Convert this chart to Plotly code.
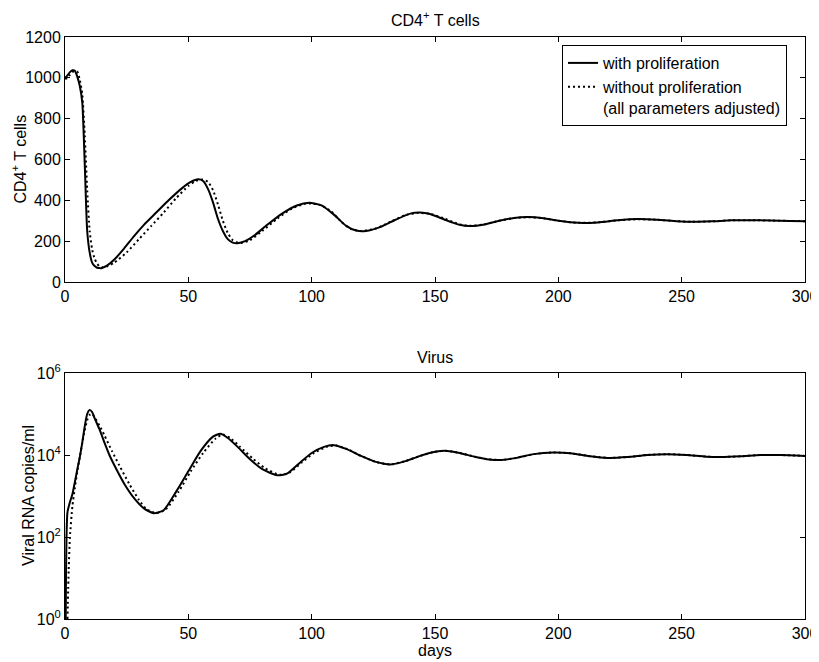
import plotly.graph_objects as go

# ---------------- data ----------------
# CD4+ T cells, with proliferation
cd4_t_with = [0, 1, 2, 3, 4, 5, 6, 7, 8, 9, 10, 11, 12, 13, 14, 15, 17, 20, 24, 28, 32, 37, 42, 47, 51, 54, 56,
              58, 60, 62, 64, 66, 68, 70, 73, 77, 82, 88, 94, 99, 104, 109, 114, 118, 122, 128, 134, 140,
              144, 148, 154, 160, 164, 170, 176, 182, 188, 194, 200, 208, 216, 224, 232, 240, 248, 254,
              262, 270, 278, 286, 294, 300]
cd4_v_with = [1000, 1012, 1028, 1037, 1035, 1005, 960, 880, 580, 250, 145, 95, 78, 70, 68, 69, 80, 110, 165,
              225, 280, 340, 400, 455, 490, 503, 495, 455, 390, 310, 250, 210, 193, 190, 200, 230, 280, 335,
              375, 388, 375, 330, 275, 252, 250, 270, 305, 335, 340, 333, 305, 280, 274, 282, 300, 314, 318,
              312, 300, 290, 292, 302, 308, 305, 298, 295, 297, 302, 303, 301, 299, 298]

# CD4+ T cells, without proliferation
cd4_t_without = [0, 1, 2, 3, 4, 5, 6, 7, 8, 9, 10, 11, 12, 13, 14, 15, 17, 20, 25, 30, 35, 40, 45, 50, 53, 56,
                 58, 60, 62, 64, 66, 68, 70, 72, 75, 80, 86, 92, 97, 100, 104, 108, 112, 116, 120, 126, 132,
                 138, 143, 148, 154, 160, 164, 170, 176, 182, 188, 194, 200, 208, 216, 224, 232, 240, 248,
                 254, 262, 270, 278, 286, 294, 300]
cd4_v_without = [995, 1000, 1015, 1028, 1033, 1030, 990, 920, 720, 450, 250, 160, 115, 90, 76, 72, 76, 95, 145,
                 210, 275, 340, 410, 470, 495, 502, 490, 450, 380, 300, 240, 205, 193, 192, 205, 250, 310,
                 360, 382, 385, 375, 345, 295, 260, 250, 262, 295, 328, 338, 334, 310, 282, 275, 282, 300,
                 313, 317, 312, 300, 290, 292, 302, 307, 305, 298, 295, 297, 302, 303, 301, 299, 298]

# Viral RNA copies/ml, with proliferation
vir_t_with = [0.3, 1, 2, 3, 4, 5, 6, 7, 8, 9, 10, 11, 12, 14, 16, 18, 21, 24, 28, 32, 36, 40, 45, 50, 55, 60,
              63, 66, 70, 75, 80, 86, 90, 95, 100, 105, 109, 114, 120, 126, 132, 138, 144, 150, 155, 160,
              166, 172, 177, 183, 190, 198, 205, 212, 220, 228, 236, 244, 252, 260, 266, 274, 282, 290, 300]
vir_v_with = [1, 400, 710, 1100, 2200, 4500, 8900, 20000, 50000, 100000, 126000, 112000, 79000, 42000, 20000,
              10000, 4300, 2000, 890, 500, 380, 450, 1260, 4000, 12600, 28000, 33000, 26000, 15800, 7900,
              4500, 3200, 3500, 6300, 11200, 15800, 17400, 14100, 9500, 6800, 5900, 7100, 9500, 12000,
              12600, 11200, 9100, 7800, 7600, 8500, 10500, 11500, 11000, 9500, 8500, 8900, 10000, 10500,
              10000, 9100, 8900, 9300, 10000, 10000, 9500]

# Viral RNA copies/ml, without proliferation
vir_t_without = [1, 1.5, 2, 3, 4, 5, 6, 7, 8, 9, 10, 11, 12, 14, 16, 19, 22, 26, 30, 33, 37, 41, 46, 51, 56, 61,
                 64, 67, 71, 76, 81, 87, 91, 96, 101, 106, 110, 115, 120, 126, 132, 138, 144, 150, 155, 160,
                 166, 172, 177, 183, 190, 198, 205, 212, 220, 228, 236, 244, 252, 260, 266, 274, 282, 290, 300]
vir_v_without = [1, 16, 100, 560, 1600, 4000, 8900, 20000, 40000, 71000, 95000, 100000, 83000, 52000, 30000,
                 12600, 5600, 2000, 800, 480, 380, 480, 1260, 4000, 11200, 25000, 31600, 26000, 15800, 8300,
                 4800, 3300, 3700, 6600, 11200, 15800, 17000, 13500, 9500, 6800, 5900, 7100, 9500, 12000,
                 12600, 11200, 9100, 7800, 7600, 8500, 10500, 11500, 11000, 9500, 8500, 8900, 10000, 10500,
                 10000, 9100, 8900, 9300, 10000, 10000, 9500]

x_ticks = [0, 50, 100, 150, 200, 250, 300]
cd4_ticks = [0, 200, 400, 600, 800, 1000, 1200]
vir_tickvals = [1, 100, 10000, 1000000]
vir_ticktext = ["10<sup>0</sup>", "10<sup>2</sup>", "10<sup>4</sup>", "10<sup>6</sup>"]

name_with = "with proliferation"
name_without = "without proliferation<br>(all parameters adjusted)"

# ---------------- figure ----------------
FONT = "Liberation Sans, Arial, Helvetica, sans-serif"
FS = 16
solid = dict(color="black", width=2, shape="spline", smoothing=0.6)
dotted = dict(color="black", width=2, dash="2px,3px", shape="spline", smoothing=0.6)

fig = go.Figure()
fig.add_trace(go.Scatter(x=cd4_t_with, y=cd4_v_with, mode="lines", line=solid, name=name_with,
                         xaxis="x", yaxis="y"))
fig.add_trace(go.Scatter(x=cd4_t_without, y=cd4_v_without, mode="lines", line=dotted, name=name_without,
                         xaxis="x", yaxis="y"))
fig.add_trace(go.Scatter(x=vir_t_with, y=vir_v_with, mode="lines", line=solid, showlegend=False,
                         xaxis="x2", yaxis="y2"))
fig.add_trace(go.Scatter(x=vir_t_without, y=vir_v_without, mode="lines", line=dotted, showlegend=False,
                         xaxis="x2", yaxis="y2"))

axis_common = dict(showline=True, linecolor="black", linewidth=1, mirror="allticks", ticks="inside",
                   ticklen=5, tickcolor="black", showgrid=False, zeroline=False, automargin=False,
                   tickfont=dict(family=FONT, size=FS, color="black"))

# page is offset by the 8px body margin; figure is sized to fit the 819x662 window
W, H = 811, 654
L, T, R, B = 57, 29, 14, 43
plot_h = H - T - B
top_lo = (619 - 282) / plot_h
bot_hi = (619 - 373) / plot_h

fig.update_layout(
    width=W, height=H,
    margin=dict(l=L, r=R, t=T, b=B),
    paper_bgcolor="white", plot_bgcolor="white",
    font=dict(family=FONT, size=FS, color="black"),
    xaxis=dict(domain=[0, 1], range=[0, 300], tickvals=x_ticks, anchor="y", **axis_common),
    yaxis=dict(domain=[top_lo, 1], range=[0, 1200], tickvals=cd4_ticks, anchor="x", **axis_common),
    xaxis2=dict(domain=[0, 1], range=[0, 300], tickvals=x_ticks, anchor="y2",
                title=dict(text="days", standoff=3, font=dict(size=FS)), **axis_common),
    yaxis2=dict(domain=[0, bot_hi], type="log", range=[0, 6], tickvals=vir_tickvals, ticktext=vir_ticktext,
                anchor="x2", **axis_common),
    legend=dict(x=(787 - 65) / 740, y=(619 - 45) / plot_h, xanchor="right", yanchor="top",
                bordercolor="black", borderwidth=1, bgcolor="white", valign="top",
                font=dict(family=FONT, size=FS, color="black"), tracegroupgap=0,
                itemwidth=30),
    showlegend=True,
    annotations=[
        dict(text="CD4<sup>+</sup> T cells", x=0.5, y=1, xref="paper", yref="paper", yanchor="bottom",
             yshift=6, showarrow=False, font=dict(family=FONT, size=FS, color="black")),
        dict(text="Virus", x=0.5, y=bot_hi, xref="paper", yref="paper", yanchor="bottom",
             yshift=5, showarrow=False, font=dict(family=FONT, size=FS, color="black")),
        dict(text="CD4<sup>+</sup> T cells", x=0, y=(top_lo + 1) / 2, xref="paper", yref="paper",
             xanchor="center", yanchor="middle", xshift=-45, textangle=-90, showarrow=False,
             font=dict(family=FONT, size=FS, color="black")),
        dict(text="Viral RNA copies/ml", x=0, y=bot_hi / 2, xref="paper", yref="paper",
             xanchor="center", yanchor="middle", xshift=-37, textangle=-90, showarrow=False,
             font=dict(family=FONT, size=FS, color="black")),
    ],
)

fig.write_html("out.html")
